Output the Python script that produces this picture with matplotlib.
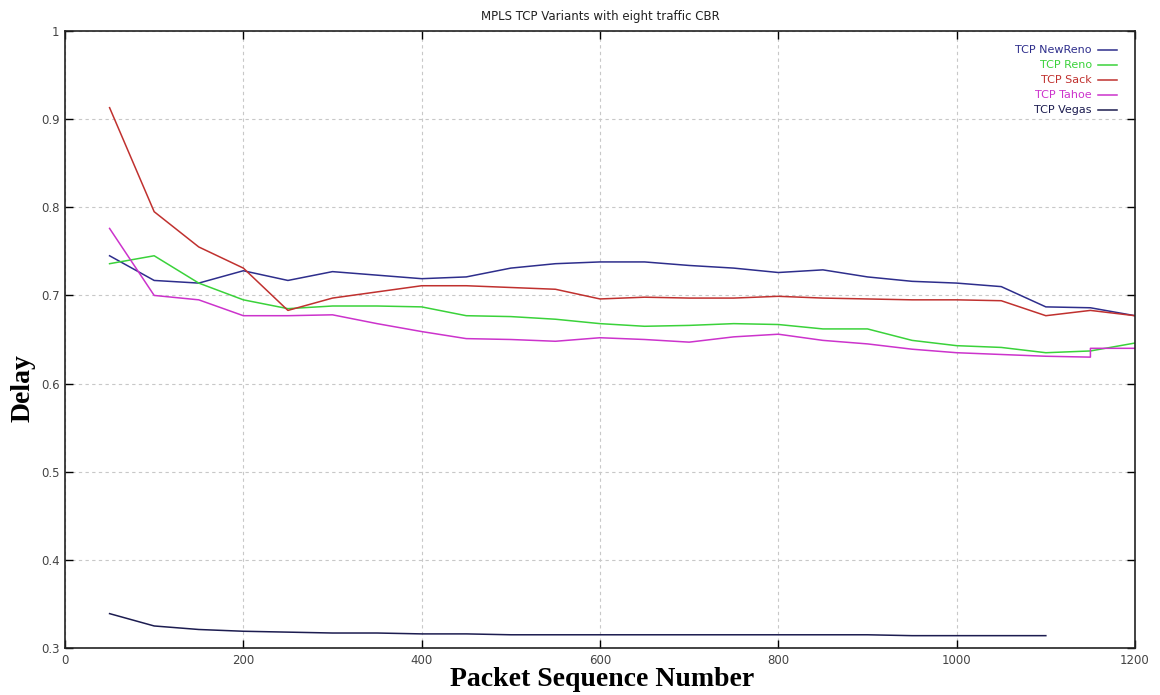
import matplotlib
matplotlib.use("Agg")
import matplotlib.pyplot as plt

x = [50, 100, 150, 200, 250, 300, 350, 400, 450, 500, 550, 600, 650, 700,
     750, 800, 850, 900, 950, 1000, 1050, 1100, 1150, 1200]

newreno = [0.745, 0.717, 0.714, 0.728, 0.717, 0.727, 0.723, 0.719, 0.721, 0.731,
           0.736, 0.738, 0.738, 0.734, 0.731, 0.726, 0.729, 0.721, 0.716, 0.714,
           0.710, 0.687, 0.686, 0.677]
reno = [0.736, 0.745, 0.714, 0.695, 0.685, 0.688, 0.688, 0.687, 0.677, 0.676,
        0.673, 0.668, 0.665, 0.666, 0.668, 0.667, 0.662, 0.662, 0.649, 0.643,
        0.641, 0.635, 0.637, 0.646]
sack = [0.913, 0.795, 0.755, 0.731, 0.683, 0.697, 0.704, 0.711, 0.711, 0.709,
        0.707, 0.696, 0.698, 0.697, 0.697, 0.699, 0.697, 0.696, 0.695, 0.695,
        0.694, 0.677, 0.683, 0.677]
tahoe_x = [50, 100, 150, 200, 250, 300, 350, 400, 450, 500, 550, 600, 650, 700,
           750, 800, 850, 900, 950, 1000, 1050, 1100, 1150, 1150, 1200]
tahoe = [0.776, 0.700, 0.695, 0.677, 0.677, 0.678, 0.668, 0.659, 0.651, 0.650,
         0.648, 0.652, 0.650, 0.647, 0.653, 0.656, 0.649, 0.645, 0.639, 0.635,
         0.633, 0.631, 0.630, 0.640, 0.640]
vegas_x = [50, 100, 150, 200, 250, 300, 350, 400, 450, 500, 550, 600, 650, 700,
           750, 800, 850, 900, 950, 1000, 1050, 1100]
vegas = [0.339, 0.325, 0.321, 0.319, 0.318, 0.317, 0.317, 0.316, 0.316, 0.315,
         0.315, 0.315, 0.315, 0.315, 0.315, 0.315, 0.315, 0.315, 0.314, 0.314,
         0.314, 0.314]

labels = ["TCP NewReno", "TCP Reno", "TCP Sack", "TCP Tahoe", "TCP Vegas"]
colors = ["#2e2e8c", "#3ad23a", "#c0312f", "#cc33cc", "#1c1c50"]

fig = plt.figure(figsize=(11.6, 6.95), dpi=100)
ax = fig.add_axes([65/1160, 47/695, 1070/1160, 617/695])

ax.plot(x, newreno, color=colors[0], lw=1.1, label=labels[0])
ax.plot(x, reno, color=colors[1], lw=1.1, label=labels[1])
ax.plot(x, sack, color=colors[2], lw=1.1, label=labels[2])
ax.plot(tahoe_x, tahoe, color=colors[3], lw=1.1, label=labels[3])
ax.plot(vegas_x, vegas, color=colors[4], lw=1.1, label=labels[4])

ax.set_xlim(0, 1200)
ax.set_ylim(0.3, 1.0)
ax.set_xticks([0, 200, 400, 600, 800, 1000, 1200])
ax.set_yticks([0.3, 0.4, 0.5, 0.6, 0.7, 0.8, 0.9, 1.0])
ax.set_yticklabels(["0.3", "0.4", "0.5", "0.6", "0.7", "0.8", "0.9", "1"])
ax.tick_params(direction="in", top=True, right=True, length=6, width=1,
               labelsize=8.5, labelcolor="#444444", pad=4)
ax.grid(True, linestyle=(0, (3, 3)), color="#c8c8c8", lw=0.8)
for s in ax.spines.values():
    s.set_linewidth(1.2)
    s.set_color("#222222")

ax.set_title("MPLS TCP Variants with eight traffic CBR", fontsize=8.5,
             color="#222222", pad=8)

fig.text(602/1160, 1 - 680/695, "Packet Sequence Number", ha="center",
         va="center", fontsize=20, fontweight="bold", family="Liberation Serif")
fig.text(23/1160, 1 - 388/695, "Delay", ha="center", va="center",
         rotation=90, fontsize=20, fontweight="bold", family="Liberation Serif")

leg = ax.legend(loc="upper right", frameon=False, markerfirst=False,
                fontsize=8, handlelength=1.7, handletextpad=0.6,
                labelspacing=0.45, borderaxespad=0.9, labelcolor="linecolor",
                bbox_to_anchor=(0.997, 1.0))

fig.savefig("out.png", dpi=100)
